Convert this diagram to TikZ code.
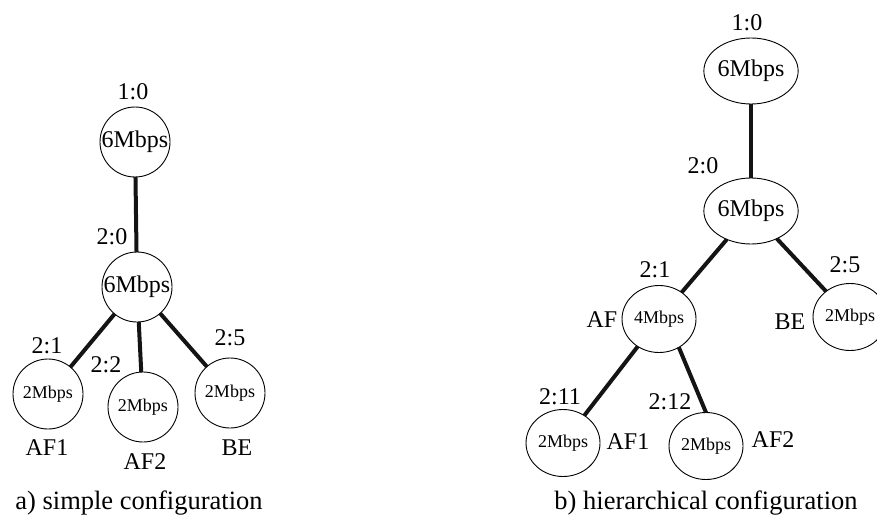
\documentclass[tikz,border=0pt]{standalone}
\usepackage{fontspec}
\setmainfont{Liberation Serif}
\usetikzlibrary{shapes.geometric}
\tikzset{
  every node/.style={inner sep=0pt, outer sep=0pt},
  lbl/.style={font=\fontsize{24}{24}\selectfont},
  captxt/.style={font=\fontsize{26.5}{26.5}\selectfont},
  bigq/.style={circle, draw, line width=0.9pt, minimum size=70pt, font=\fontsize{24}{24}\selectfont},
  smallq/.style={circle, draw, line width=0.9pt, minimum size=70pt, font=\fontsize{18}{18}\selectfont},
  bigr/.style={ellipse, draw, line width=0.9pt, minimum width=76pt, minimum height=66pt, font=\fontsize{24}{24}\selectfont},
  smallr/.style={ellipse, draw, line width=0.9pt, minimum width=74pt, minimum height=67pt, font=\fontsize{18}{18}\selectfont},
  link/.style={line width=4pt, draw=black!92}
}
\begin{document}
\begin{tikzpicture}[x=1pt,y=-1pt]
\useasboundingbox (0,0) rectangle (877,516);
% ---------- a) simple configuration ----------
\node[bigq] (a1) at (135,142) {6Mbps};
\node[bigq] (a2) at (137,287) {6Mbps};
\node[smallq] (a3) at (48,394) {2Mbps};
\node[smallq] (a4) at (143,407) {2Mbps};
\node[smallq] (a5) at (230,393) {2Mbps};
\node[lbl] (la1) at (133,92) {1:0};
\node[lbl] (la2) at (112,237) {2:0};
\node[lbl] (la3) at (47,346) {2:1};
\node[lbl] (la4) at (106,365) {2:2};
\node[lbl] (la5) at (230,338) {2:5};
\node[lbl] (na3) at (47,448) {AF1};
\node[lbl] (na4) at (145,462) {AF2};
\node[lbl] (na5) at (237,448) {BE};
\node[captxt] (capa) at (139,503) {a) simple configuration};
\draw[link] (a1) -- (a2);
\draw[link] (a2) -- (a3);
\draw[link] (a2) -- (a4);
\draw[link] (a2) -- (a5);
% ---------- b) hierarchical configuration ----------
\node[bigr] (b1) at (751,71) {6Mbps};
\node[bigr] (b2) at (751,211) {6Mbps};
\node[smallr] (b3) at (659,319) {4Mbps};
\node[smallr] (b4) at (850,317) {2Mbps};
\node[smallr] (b5) at (563,443) {2Mbps};
\node[smallr] (b6) at (706,446) {2Mbps};
\node[lbl] (lb1) at (747,23) {1:0};
\node[lbl] (lb2) at (703,166) {2:0};
\node[lbl] (lb3) at (655,270) {2:1};
\node[lbl] (lb4) at (845,265) {2:5};
\node[lbl] (lb5) at (560,397) {2:11};
\node[lbl] (lb6) at (670,402) {2:12};
\node[lbl] (nb3) at (602,320) {AF};
\node[lbl] (nb4) at (790,322) {BE};
\node[lbl] (nb5) at (628,442) {AF1};
\node[lbl] (nb6) at (773,440) {AF2};
\node[captxt] (capb) at (706,503) {b) hierarchical configuration};
\draw[link] (b1) -- (b2);
\draw[link] (b2) -- (b3);
\draw[link] (b2) -- (b4);
\draw[link] (b3) -- (b5);
\draw[link] (b3.-55) -- (b6.north);
\end{tikzpicture}
\end{document}
